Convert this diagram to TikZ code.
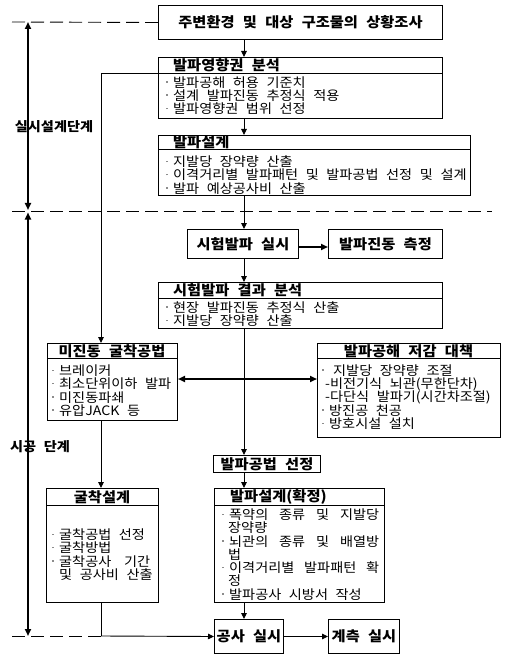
\documentclass[tikz,border=0pt]{standalone}
\usepackage{fontspec}
\setmainfont{Noto Sans CJK KR}[WordSpace=2.4, FakeStretch=1.09]
\usetikzlibrary{arrows.meta}
\newcommand\bul{\makebox[7pt][l]{\textcolor{black!45}{\rule[4.5pt]{1.4pt}{1.4pt}}}}
\begin{document}
\begin{tikzpicture}[x=1pt,y=-1pt,
  box/.style={draw, line width=1pt, inner sep=0pt, anchor=north west},
  hd/.style={font=\fontsize{14}{15}\selectfont\bfseries, inner sep=0pt},
  bd/.style={font=\fontsize{13}{13.3}\selectfont, align=left, inner sep=0pt, anchor=west},
  lab/.style={font=\fontsize{13}{14}\selectfont\bfseries, inner sep=0pt},
  ln/.style={line width=0.9pt},
  ar/.style={line width=0.9pt, -{Triangle[length=6pt,width=5.5pt]}},
  arT/.style={line width=2pt, -{Triangle[length=7pt,width=6pt]}},
  dbl/.style={line width=2pt, {Triangle[length=7pt,width=6pt]}-{Triangle[length=7pt,width=6pt]}},
  phase/.style={line width=2pt, {Triangle[length=7pt,width=6pt]}-{Triangle[length=7pt,width=6pt]}},
  dsh/.style={line width=0.9pt, dash pattern=on 13pt off 6pt},
  dv/.style={line width=0.9pt}]
\fill[white] (0,0) rectangle (505,668);
\useasboundingbox (0,0) rectangle (505,668);
\coordinate (sp) at (244,0);
\coordinate (gx) at (101,0);
% boxes
\node[box, minimum width=284pt, minimum height=34pt] (A) at (158,5) {};
\node[hd] at (A.center) {주변환경 및 대상 구조물의 상황조사};

\node[box, minimum width=284pt, minimum height=61pt] (B) at (158,57) {};
\draw[dv] (B.west |- 0,73) -- (B.east |- 0,73);
\node[hd, anchor=west] at (173,65) {발파영향권 분석};
\node[bd] at (166,95.5) {\bul 발파공해 허용 기준치\\ \bul 설계 발파진동 추정식 적용\\ \bul 발파영향권 범위 선정};

\node[box, minimum width=312pt, minimum height=60pt] (C) at (158,135) {};
\draw[dv] (C.west |- 0,149) -- (C.east |- 0,149);
\node[hd, anchor=west] at (173,142) {발파설계};
\node[bd] at (166,175) {\bul 지발당 장약량 산출\\ \bul 이격거리별 발파패턴 및 발파공법 선정 및 설계\\ \bul 발파 예상공사비 산출};

\node[box, minimum width=111pt, minimum height=29pt] (D) at (187,229) {};
\node[hd] at (D.center) {시험발파 실시};
\node[box, minimum width=114pt, minimum height=29pt] (E) at (328,229) {};
\node[hd] at (E.center) {발파진동 측정};

\node[box, minimum width=284pt, minimum height=46pt] (F) at (158,282) {};
\draw[dv] (F.west |- 0,298) -- (F.east |- 0,298);
\node[hd, anchor=west] at (173,290) {시험발파 결과 분석};
\node[bd] at (166,314) {\bul 현장 발파진동 추정식 산출\\ \bul 지발당 장약량 산출};

\node[box, minimum width=130pt, minimum height=77pt] (G) at (47,343) {};
\draw[dv] (G.west |- 0,358) -- (G.east |- 0,358);
\node[hd] at (112,351) {미진동 굴착공법};
\node[bd] at (52,390.5) {\bul 브레이커\\ \bul 최소단위이하 발파\\ \bul 미진동파쇄\\ \bul 유압JACK 등};

\node[box, minimum width=183pt, minimum height=94pt] (H) at (317,343) {};
\draw[dv] (H.west |- 0,358) -- (H.east |- 0,358);
\node[hd] at (408.5,351) {발파공해 저감 대책};
\node[bd] at (322,397) {\bul\hspace*{4pt}지발당 장약량 조절\\ \hspace*{3pt}-비전기식 뇌관(무한단차)\\ \hspace*{3pt}-다단식 발파기(시간차조절)\\ \bul 방진공 천공\\ \bul 방호시설 설치};

\node[box, minimum width=107pt, minimum height=17pt] (I) at (213,455) {};
\node[hd] at (I.center) {발파공법 선정};

\node[box, minimum width=112pt, minimum height=114pt] (J) at (46,488) {};
\draw[dv] (J.west |- 0,505) -- (J.east |- 0,505);
\node[hd] at (102,497) {굴착설계};
\node[bd] at (52,554.5) {\bul 굴착공법 선정\\ \bul 굴착방법\\ \bul\makebox[91pt][s]{굴착공사 기간}\\ \hspace*{7pt}및 공사비 산출};

\node[box, minimum width=170pt, minimum height=114pt] (K) at (214,488) {};
\draw[dv] (K.west |- 0,505) -- (K.east |- 0,505);
\node[hd, anchor=west] at (230,497) {발파설계(확정)};
\node[bd] at (222,554.5) {\bul\makebox[150pt][s]{폭약의 종류 및 지발당}\\ \hspace*{6pt}장약량\\ \bul\makebox[150pt][s]{뇌관의 종류 및 배열방}\\ \hspace*{6pt}법\\ \bul\makebox[150pt][s]{이격거리별 발파패턴 확}\\ \hspace*{6pt}정\\ \bul 발파공사 시방서 작성};

\node[box, minimum width=69pt, minimum height=34pt] (L) at (214,619) {};
\node[hd] at (L.center) {공사 실시};
\node[box, minimum width=71pt, minimum height=34pt] (M) at (328,619) {};
\node[hd] at (M.center) {계측 실시};

% labels
\node[lab] at (54,127) {실시설계단계};
\node[lab] at (40,447) {시공 단계};

% dashed phase lines
\coordinate (d1) at (12,22);
\coordinate (d2l) at (12,211);
\coordinate (d2r) at (492,211);
\coordinate (d3) at (12,636);
\coordinate (jl) at (101,636);
\draw[dsh] (d1) -- (A.west);
\draw[dsh] (d2l) -- (d2r);
\draw[dsh] (d3) -- (jl);

% phase arrows
\coordinate (p1) at (28,22);
\coordinate (p2) at (28,210);
\coordinate (p3) at (28,212.5);
\coordinate (p4) at (28,636);
\draw[phase] (p1) -- (p2);
\draw[phase] (p3) -- (p4);

% connectors
\draw[ar] (A.south -| sp) -- (B.north -| sp);
\draw[ar] (B.south -| sp) -- (C.north -| sp);
\draw[ar] (C.south -| sp) -- (D.north -| sp);
\draw[arT] (D.east |- 0,247) -- (E.west |- 0,247);
\draw[ar] (D.south -| sp) -- (F.north -| sp);
\draw[ar] (F.south -| sp) -- (I.north -| sp);
\draw[ar] (I.south -| sp) -- (K.north -| sp);
\draw[ar] (K.south -| sp) -- (L.north -| sp);
\draw[ar] (L.east) -- (M.west);
\draw[ar] (B.west |- 0,73) -| (G.north -| gx);
\draw[ar] (G.south -| gx) -- (J.north -| gx);
\draw[ln] (J.south -| gx) -- (jl);
\draw[ar] (jl) -- (L.west);
\draw[dbl] (G.east |- 0,379) -- (H.west |- 0,379);
\end{tikzpicture}
\end{document}
